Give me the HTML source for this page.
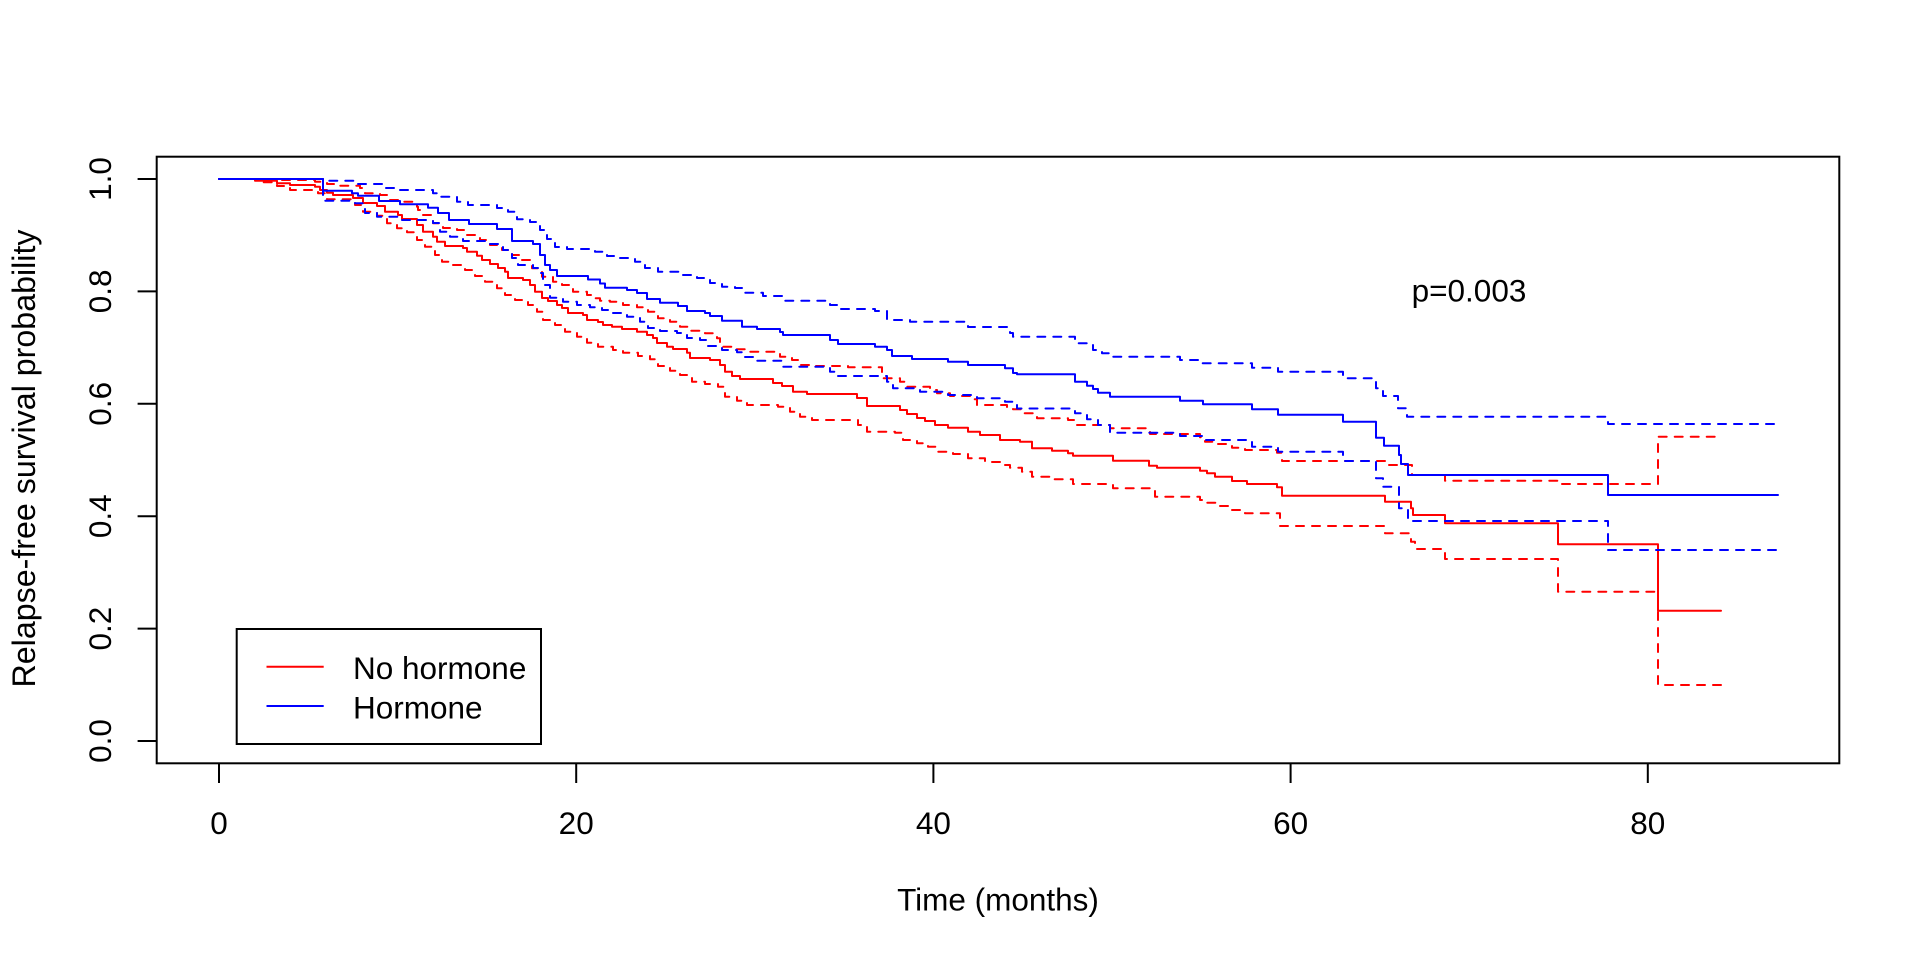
<!DOCTYPE html>
<html>
<head>
<meta charset="utf-8">
<style>
html,body{margin:0;padding:0;background:#fff;}
svg{display:block;}
text{font-family:"Liberation Sans",Arial,sans-serif;font-size:31.5px;fill:#000;}
</style>
</head>
<body>
<svg width="1920" height="960" viewBox="0 0 1920 960" xmlns="http://www.w3.org/2000/svg">
<rect x="0" y="0" width="1920" height="960" fill="#fff"/>

<g fill="none" stroke-width="2" stroke-linejoin="round" stroke-linecap="round">
<!-- No hormone (red) -->
<path stroke="#FF0000" d="M219 179 H255 V180.7 H277 V183.3 H290 V185 H315 V186.7 H320 V190 H327 V192.7 H333 V195 H353 V198 H363 V203 H377 V206 H385 V211.7 H398 V215 H402 V219 H417 V225 H423 V231.7 H433 V236.7 H437 V241.7 H445 V246 H463 V248 H467 V251.7 H477 V255.7 H482 V260 H490 V264 H498 V268 H505 V271.7 H508 V278 H523 V280 H530 V285 H535 V291.7 H542 V298 H548 V301 H557 V305 H562 V308 H568 V313 H583 V315 H587 V320 H598 V322 H603 V325 H612 V326.7 H622 V329 H637 V331.7 H647 V335 H653 V338 H657 V343 H667 V346.7 H673 V349 H687 V352.7 H690 V358 H710 V360 H720 V365 H725 V371.7 H732 V376 H740 V379 H773 V383 H782 V386 H793 V391.7 H807 V394 H857 V398 H867 V406 H900 V410 H907 V414 H917 V418 H925 V421 H935 V425 H948 V427.7 H968 V431.7 H980 V435 H1000 V440 H1020 V441.7 H1032 V448.3 H1052 V450.7 H1068 V453.3 H1073 V455.7 H1113 V460.7 H1149 V465.7 H1157 V467.7 H1200 V470.7 H1207 V473.3 H1215 V476.7 H1232 V481 H1247 V484 H1277 V487.3 H1282 V495.7 H1385 V501.7 H1411 V508.3 H1413 V515 H1445 V523.3 H1558 V544.3 H1658 V610.7 H1721"/>
<path stroke="#FF0000" stroke-dasharray="8 8" d="M219 179 H255 V180 H315 V181.7 H327 V184 H340 V185.7 H360 V188 H365 V193.3 H380 V195 H390 V200 H400 V201.7 H417 V206.7 H418 V210 H423 V215 H433 V223.3 H443 V228 H457 V230 H467 V235 H480 V240 H490 V245 H502 V250 H512 V255 H520 V260 H532 V268.3 H542 V276.7 H553 V281.7 H562 V285 H573 V291.7 H587 V295 H595 V298.3 H600 V300.7 H610 V301.7 H623 V305 H637 V307.3 H648 V311.7 H658 V318.3 H670 V321.7 H680 V326.7 H690 V330.7 H705 V333.3 H717 V338.3 H720 V346.7 H733 V349.3 H747 V351.7 H780 V356.7 H792 V360 H800 V365 H813 V366 H848 V367.3 H882 V378.3 H900 V381.7 H907 V386.7 H930 V390 H937 V393.3 H950 V396 H973 V399.3 H977 V405 H1007 V408.3 H1013 V409.3 H1023 V413.3 H1037 V418.3 H1068 V420 H1077 V425 H1110 V428.3 H1150 V434 H1200 V437.3 H1205 V441.7 H1218 V444 H1232 V447.7 H1245 V450 H1277 V452.7 H1282 V461 H1385 V465 H1412 V475 H1445 V480.7 H1560 V484 H1658 V436.7 H1721"/>
<path stroke="#FF0000" stroke-dasharray="8 8" d="M219 179 H258 V182.3 H277 V186 H290 V190 H318 V193.3 H327 V199.3 H355 V205 H363 V211.7 H377 V215.7 H387 V223.3 H397 V228.3 H407 V232.3 H417 V240 H425 V246.7 H435 V255 H442 V261.7 H453 V265 H465 V270 H475 V276 H485 V281.7 H497 V288.3 H505 V295 H515 V300 H528 V305 H537 V311.7 H543 V320 H555 V325 H565 V331.7 H577 V336.7 H587 V342.7 H598 V346.7 H613 V350 H623 V352.7 H638 V356 H650 V359.3 H658 V366 H670 V370.7 H680 V375 H692 V381.7 H705 V384 H718 V386.7 H725 V396.7 H737 V400.7 H747 V405 H778 V406.7 H790 V411.7 H800 V416.7 H812 V420 H858 V425 H867 V431.7 H895 V432.7 H903 V440 H917 V443.3 H928 V446.7 H937 V451.7 H953 V454 H968 V458.3 H985 V462 H1000 V465 H1010 V467.7 H1022 V471.7 H1032 V476.7 H1050 V479.3 H1073 V484 H1113 V488.3 H1155 V496.7 H1200 V500 H1207 V502.7 H1220 V506 H1232 V510 H1245 V513.3 H1280 V526 H1385 V533.3 H1411 V541.7 H1415 V549 H1445 V559 H1558 V591.7 H1658 V685 H1721"/>

<!-- Hormone (blue) -->
<path stroke="#0000FF" d="M219 179 H323 V190.7 H352 V193.3 H358 V195.7 H379 V201 H400 V204.3 H428 V207.7 H438 V213 H449 V220 H469 V224 H497 V229 H512 V241 H533 V244 H540 V255 H545 V265 H550 V270 H557 V276 H588 V279.5 H600 V283.5 H605 V287.7 H627 V290 H637 V293 H647 V299 H660 V302.7 H678 V306 H687 V311 H705 V313 H710 V316 H722 V320.7 H742 V326.7 H757 V329 H780 V332 H783 V335 H830 V340 H838 V344 H875 V346.7 H887 V350 H892 V356 H912 V359 H948 V361.7 H968 V365 H1005 V368.3 H1013 V373 H1017 V374.3 H1075 V381.7 H1087 V385.7 H1093 V389 H1098 V392.7 H1110 V396.7 H1180 V400.7 H1203 V404.3 H1252 V409.3 H1278 V414.7 H1343 V421.7 H1376 V437.7 H1384 V445.7 H1399 V455 H1401 V464 H1408 V475 H1608 V495 H1778"/>
<path stroke="#0000FF" stroke-dasharray="8 8" d="M219 179 H323 V180.7 H357 V184 H382 V188 H397 V190 H433 V193.3 H440 V196.7 H457 V201.7 H468 V205 H497 V208 H508 V211.7 H517 V219.3 H530 V222 H540 V230 H547 V239 H555 V247 H567 V249 H595 V251.7 H607 V256 H620 V258 H635 V261.7 H645 V268 H658 V271.7 H683 V275 H697 V278 H710 V283 H722 V286.7 H735 V288 H745 V292.7 H763 V296 H785 V300.7 H830 V305 H840 V309 H875 V311 H887 V320 H910 V321.7 H968 V327 H1010 V333 H1013 V336.7 H1075 V343.3 H1093 V350 H1102 V353.3 H1113 V356.7 H1180 V360 H1202 V363.3 H1252 V367.7 H1278 V371.7 H1343 V378.3 H1376 V388.3 H1383 V396 H1398 V408.3 H1407 V416.7 H1608 V424 H1778"/>
<path stroke="#0000FF" stroke-dasharray="8 8" d="M219 179 H323 V200.7 H355 V203.3 H363 V207.7 H365 V213 H377 V216.7 H400 V220 H433 V223 H440 V231.7 H450 V236.7 H463 V241 H487 V244 H503 V250 H512 V258 H518 V265 H533 V268 H538 V273 H543 V285 H550 V297.7 H563 V301.7 H577 V305 H590 V307.3 H602 V310 H613 V313 H627 V316.7 H640 V321.7 H648 V328 H660 V331 H677 V333 H687 V338 H700 V340 H707 V346 H722 V350 H737 V352.3 H743 V357 H757 V360.7 H782 V366.7 H830 V371.7 H838 V376 H887 V381.7 H893 V388.3 H920 V391.7 H948 V395 H977 V398.3 H1005 V401.7 H1017 V408.5 H1075 V413.3 H1087 V419.3 H1098 V425 H1110 V432.7 H1180 V436 H1202 V440 H1252 V446.7 H1278 V451.7 H1343 V461 H1376 V478.3 H1383 V486.7 H1399 V508.3 H1408 V521 H1608 V550 H1778"/>
</g>

<!-- plot box -->
<rect x="156.7" y="156.7" width="1682.6" height="606.6" fill="none" stroke="#000" stroke-width="2"/>

<!-- x ticks -->
<g stroke="#000" stroke-width="2">
<line x1="219" y1="763.3" x2="219" y2="783"/>
<line x1="576.2" y1="763.3" x2="576.2" y2="783"/>
<line x1="933.4" y1="763.3" x2="933.4" y2="783"/>
<line x1="1290.6" y1="763.3" x2="1290.6" y2="783"/>
<line x1="1647.8" y1="763.3" x2="1647.8" y2="783"/>
<!-- y ticks -->
<line x1="137.6" y1="741" x2="156.7" y2="741"/>
<line x1="137.6" y1="628.6" x2="156.7" y2="628.6"/>
<line x1="137.6" y1="516.2" x2="156.7" y2="516.2"/>
<line x1="137.6" y1="403.8" x2="156.7" y2="403.8"/>
<line x1="137.6" y1="291.4" x2="156.7" y2="291.4"/>
<line x1="137.6" y1="179" x2="156.7" y2="179"/>
</g>

<!-- x tick labels -->
<g text-anchor="middle">
<text x="219" y="834">0</text>
<text x="576.2" y="834">20</text>
<text x="933.4" y="834">40</text>
<text x="1290.6" y="834">60</text>
<text x="1647.8" y="834">80</text>
</g>

<!-- y tick labels -->
<g text-anchor="middle">
<text transform="translate(111,741) rotate(-90)">0.0</text>
<text transform="translate(111,628.6) rotate(-90)">0.2</text>
<text transform="translate(111,516.2) rotate(-90)">0.4</text>
<text transform="translate(111,403.8) rotate(-90)">0.6</text>
<text transform="translate(111,291.4) rotate(-90)">0.8</text>
<text transform="translate(111,179) rotate(-90)">1.0</text>
</g>

<!-- axis titles -->
<text x="998" y="910.7" text-anchor="middle">Time (months)</text>
<text transform="translate(35,458.5) rotate(-90)" text-anchor="middle" style="font-size:32.2px">Relapse-free survival probability</text>

<!-- p value -->
<text x="1469" y="301.5" text-anchor="middle">p=0.003</text>

<!-- legend -->
<rect x="236.7" y="629" width="304.3" height="115" fill="#fff" stroke="#000" stroke-width="2"/>
<line x1="266.5" y1="666.7" x2="323.7" y2="666.7" stroke="#FF0000" stroke-width="2"/>
<line x1="266.5" y1="706" x2="323.7" y2="706" stroke="#0000FF" stroke-width="2"/>
<text x="353" y="679">No hormone</text>
<text x="353" y="718.5">Hormone</text>
</svg>
</body>
</html>
